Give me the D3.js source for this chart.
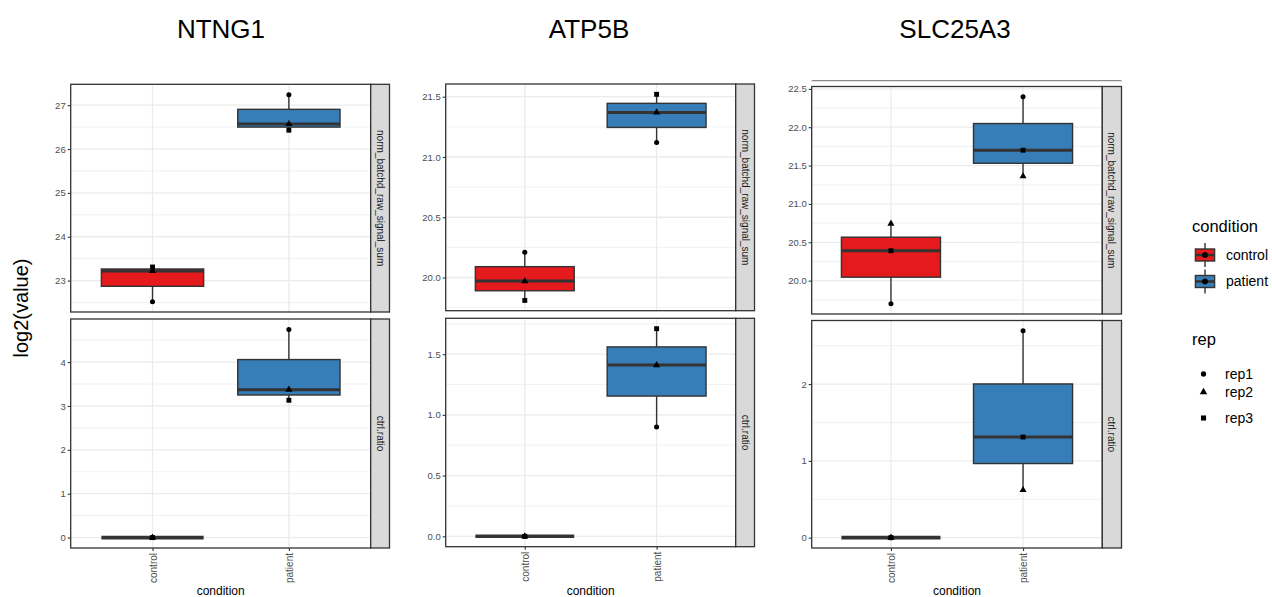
<!DOCTYPE html>
<html><head><meta charset="utf-8">
<script src="https://cdn.jsdelivr.net/npm/d3@7"></script>
<style>
html,body{margin:0;padding:0;background:#fff;}
svg{display:block;font-family:"Liberation Sans",Arial,sans-serif;}
</style></head>
<body>
<svg id="chart" width="1272" height="597"></svg>
<script>
// ---------- data ----------
const genes = ["NTNG1", "ATP5B", "SLC25A3"];
const measures = ["norm_batchd_raw_signal_sum", "ctrl.ratio"];
const conditions = ["control", "patient"];
const reps = ["rep1", "rep2", "rep3"];

// values per rep (rep1, rep2, rep3)
const NTNG1_signal_control = [22.52, 23.22, 23.31];
const NTNG1_signal_patient = [27.24, 26.57, 26.43];
const NTNG1_ratio_control  = [0, 0, 0];
const NTNG1_ratio_patient  = [4.745, 3.37, 3.13];

const ATP5B_signal_control = [20.21, 19.97, 19.81];
const ATP5B_signal_patient = [21.12, 21.37, 21.52];
const ATP5B_ratio_control  = [0, 0, 0];
const ATP5B_ratio_patient  = [0.90, 1.41, 1.71];

const SLC25A3_signal_control = [19.70, 20.743, 20.39];
const SLC25A3_signal_patient = [22.396, 21.36, 21.70];
const SLC25A3_ratio_control  = [0, 0, 0];
const SLC25A3_ratio_patient  = [2.693, 0.62, 1.31];

// tick labels
const NTNG1_signal_ticks = ["23", "24", "25", "26", "27"];
const NTNG1_ratio_ticks  = ["0", "1", "2", "3", "4"];
const ATP5B_signal_ticks = ["20.0", "20.5", "21.0", "21.5"];
const ATP5B_ratio_ticks  = ["0.0", "0.5", "1.0", "1.5"];
const SLC25A3_signal_ticks = ["20.0", "20.5", "21.0", "21.5", "22.0", "22.5"];
const SLC25A3_ratio_ticks  = ["0", "1", "2"];

const conditionColors = ["#E41A1C", "#377EB8"];
const repShapes = [d3.symbolCircle, d3.symbolTriangle, d3.symbolSquare];

// build table
const table = {
  NTNG1: [[NTNG1_signal_control, NTNG1_signal_patient, NTNG1_signal_ticks],
          [NTNG1_ratio_control, NTNG1_ratio_patient, NTNG1_ratio_ticks]],
  ATP5B: [[ATP5B_signal_control, ATP5B_signal_patient, ATP5B_signal_ticks],
          [ATP5B_ratio_control, ATP5B_ratio_patient, ATP5B_ratio_ticks]],
  SLC25A3: [[SLC25A3_signal_control, SLC25A3_signal_patient, SLC25A3_signal_ticks],
            [SLC25A3_ratio_control, SLC25A3_ratio_patient, SLC25A3_ratio_ticks]]
};

// ---------- layout ----------
const layout = [
  {x0: 70.7, x1: 370.7, s1: 389.5, rows: [[84.3, 312], [319, 548]], tx: 221},
  {x0: 445.7, x1: 735.7, s1: 754.5, rows: [[84, 310.7], [318.3, 546.7]], tx: 589},
  {x0: 811.7, x1: 1102.3, s1: 1121.5, rows: [[86.5, 314], [320.5, 548]], tx: 955, extraLine: 80.7}
];

const svg = d3.select("#chart");
const BORDER = "#333333", GRID = "#EBEBEB", TICKTXT = "#4D4D4D";

function stats(v) {
  const s = v.slice().sort(d3.ascending);
  const q1 = d3.quantileSorted(s, 0.25), med = d3.quantileSorted(s, 0.5), q3 = d3.quantileSorted(s, 0.75);
  const iqr = q3 - q1;
  const lo = d3.min(s.filter(d => d >= q1 - 1.5 * iqr));
  const hi = d3.max(s.filter(d => d <= q3 + 1.5 * iqr));
  return {q1, med, q3, lo, hi};
}

genes.forEach((gene, gi) => {
  const L = layout[gi];
  const g = svg.append("g");

  // title
  g.append("text").attr("x", L.tx).attr("y", 38).attr("text-anchor", "middle")
    .attr("font-size", 26).attr("fill", "#000").text(gene);

  if (L.extraLine) {
    g.append("line").attr("x1", L.x0).attr("x2", L.s1).attr("y1", L.extraLine).attr("y2", L.extraLine)
      .attr("stroke", "#8a8a8a").attr("stroke-width", 1.2);
  }

  const x = d3.scalePoint().domain(conditions).range([L.x0, L.x1]).padding(0.6);
  const bw = x.step() * 0.75;

  measures.forEach((m, mi) => {
    const [ctrlVals, patVals, tickLabels] = table[gene][mi];
    const groups = [ctrlVals, patVals];
    const all = ctrlVals.concat(patVals);
    const mn = d3.min(all), mx = d3.max(all), pad = (mx - mn) * 0.05;
    const [yt, yb] = L.rows[mi];
    const y = d3.scaleLinear().domain([mn - pad, mx + pad]).range([yb, yt]);
    const ticks = tickLabels.map(Number);
    const step = ticks[1] - ticks[0];
    const minors = [];
    for (let i = -1; i < ticks.length; i++) {
      const v = ticks[0] + step * (i + 0.5);
      if (v >= y.domain()[0] && v <= y.domain()[1]) minors.push(v);
    }

    const p = g.append("g");
    p.append("rect").attr("x", L.x0).attr("y", yt).attr("width", L.x1 - L.x0).attr("height", yb - yt).attr("fill", "#fff");
    // grid
    p.selectAll(".mn").data(minors).join("line")
      .attr("x1", L.x0).attr("x2", L.x1).attr("y1", d => y(d)).attr("y2", d => y(d))
      .attr("stroke", GRID).attr("stroke-width", 0.7);
    p.selectAll(".mj").data(ticks).join("line")
      .attr("x1", L.x0).attr("x2", L.x1).attr("y1", d => y(d)).attr("y2", d => y(d))
      .attr("stroke", GRID).attr("stroke-width", 1.3);
    p.selectAll(".vx").data(conditions).join("line")
      .attr("x1", d => x(d)).attr("x2", d => x(d)).attr("y1", yt).attr("y2", yb)
      .attr("stroke", GRID).attr("stroke-width", 1.3);

    // boxes
    conditions.forEach((c, ci) => {
      const st = stats(groups[ci]);
      const cx = x(c);
      const b = p.append("g");
      b.append("line").attr("x1", cx).attr("x2", cx).attr("y1", y(st.q3)).attr("y2", y(st.hi))
        .attr("stroke", BORDER).attr("stroke-width", 1.4);
      b.append("line").attr("x1", cx).attr("x2", cx).attr("y1", y(st.q1)).attr("y2", y(st.lo))
        .attr("stroke", BORDER).attr("stroke-width", 1.4);
      b.append("rect").attr("x", cx - bw / 2).attr("width", bw)
        .attr("y", y(st.q3)).attr("height", Math.max(0, y(st.q1) - y(st.q3)))
        .attr("fill", conditionColors[ci]).attr("stroke", BORDER).attr("stroke-width", 1.4);
      b.append("line").attr("x1", cx - bw / 2).attr("x2", cx + bw / 2).attr("y1", y(st.med)).attr("y2", y(st.med))
        .attr("stroke", BORDER).attr("stroke-width", st.q3 === st.q1 ? 3.6 : 3);
      // points
      groups[ci].forEach((v, ri) => {
        const sizes = [20, 22, 24];
        b.append("path").attr("d", d3.symbol().type(repShapes[ri]).size(sizes[ri])())
          .attr("transform", `translate(${cx},${y(v)})`).attr("fill", "#000");
      });
    });

    // panel border
    p.append("rect").attr("x", L.x0).attr("y", yt).attr("width", L.x1 - L.x0).attr("height", yb - yt)
      .attr("fill", "none").attr("stroke", BORDER).attr("stroke-width", 1.3);
    // strip
    p.append("rect").attr("x", L.x1).attr("y", yt).attr("width", L.s1 - L.x1).attr("height", yb - yt)
      .attr("fill", "#D9D9D9").attr("stroke", BORDER).attr("stroke-width", 1.3);
    const sx = (L.x1 + L.s1) / 2, sy = (yt + yb) / 2;
    p.append("text").attr("transform", `translate(${sx},${sy}) rotate(90)`)
      .attr("text-anchor", "middle").attr("dy", "0.35em").attr("font-size", 10).attr("fill", "#1A1A1A").text(m);

    // y axis
    const yAxis = d3.axisLeft(y).tickValues(ticks).tickSize(3).tickPadding(2)
      .tickFormat((d, i) => tickLabels[i]);
    const ya = p.append("g").attr("transform", `translate(${L.x0},0)`).call(yAxis);
    ya.select(".domain").remove();
    ya.selectAll(".tick line").attr("stroke", BORDER).attr("stroke-width", 1.1);
    ya.selectAll(".tick text").attr("fill", TICKTXT).attr("font-size", 9.5)
      .attr("font-family", "Liberation Sans, Arial, sans-serif");

    // x axis on bottom panel
    if (mi === 1) {
      const xAxis = d3.axisBottom(x).tickSize(3).tickPadding(2);
      const xa = p.append("g").attr("transform", `translate(0,${yb})`).call(xAxis);
      xa.select(".domain").remove();
      xa.selectAll(".tick line").attr("stroke", BORDER).attr("stroke-width", 1.1);
      xa.selectAll(".tick text").attr("fill", TICKTXT).attr("font-size", 10)
        .attr("font-family", "Liberation Sans, Arial, sans-serif")
        .attr("transform", "rotate(-90)").attr("text-anchor", "end")
        .attr("x", -5).attr("y", 0).attr("dy", "0.35em");
      p.append("text").attr("x", (L.x0 + L.x1) / 2).attr("y", 595).attr("text-anchor", "middle")
        .attr("font-size", 12).attr("fill", "#000").text("condition");
    }
  });
});

// y title
svg.append("text").attr("transform", "translate(28,308) rotate(-90)").attr("text-anchor", "middle")
  .attr("font-size", 20).attr("fill", "#000").text("log2(value)");

// legends
const lg = svg.append("g");
lg.append("text").attr("x", 1192).attr("y", 232).attr("font-size", 16.5).attr("fill", "#000").text("condition");
const keyYs = [255, 281.5];
conditions.forEach((c, i) => {
  const cy = keyYs[i], kx0 = 1193, kw = 24, kcx = kx0 + kw / 2;
  lg.append("line").attr("x1", kcx).attr("x2", kcx).attr("y1", cy - 12).attr("y2", cy + 12)
    .attr("stroke", BORDER).attr("stroke-width", 1.4);
  lg.append("rect").attr("x", kx0 + 2.4).attr("y", cy - 6).attr("width", kw - 4.8).attr("height", 12)
    .attr("fill", conditionColors[i]).attr("stroke", BORDER).attr("stroke-width", 1.4);
  lg.append("line").attr("x1", kx0 + 2.4).attr("x2", kx0 + kw - 2.4).attr("y1", cy).attr("y2", cy)
    .attr("stroke", BORDER).attr("stroke-width", 2.6);
  lg.append("path").attr("d", d3.symbol().type(d3.symbolCircle).size(26)())
    .attr("transform", `translate(${kcx},${cy})`).attr("fill", "#000");
  lg.append("text").attr("x", 1226).attr("y", cy).attr("dy", "0.35em").attr("font-size", 14)
    .attr("fill", "#000").text(c);
});
lg.append("text").attr("x", 1192).attr("y", 345).attr("font-size", 16.5).attr("fill", "#000").text("rep");
const repYs = [374, 392, 418];
reps.forEach((r, i) => {
  lg.append("path").attr("d", d3.symbol().type(repShapes[i]).size([22, 24, 26][i])())
    .attr("transform", `translate(1203.5,${repYs[i]})`).attr("fill", "#000");
  lg.append("text").attr("x", 1225).attr("y", repYs[i]).attr("dy", "0.35em").attr("font-size", 14)
    .attr("fill", "#000").text(r);
});
</script>
</body></html>
